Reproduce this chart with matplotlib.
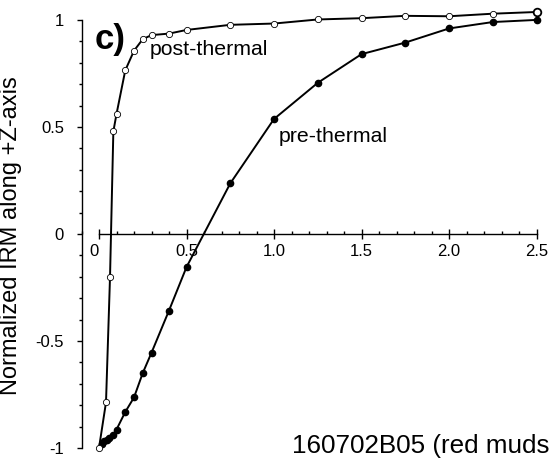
import matplotlib.pyplot as plt
from matplotlib.ticker import MultipleLocator, FixedLocator
import matplotlib.transforms as mtransforms
import numpy as np

# values
post_x = [0.0, 0.04, 0.063, 0.082, 0.10, 0.15, 0.20, 0.25, 0.30, 0.40, 0.50, 0.75,
          1.0, 1.25, 1.5, 1.75, 2.0, 2.25, 2.5]
post_y = [-1.0, -0.787, -0.20, 0.479, 0.56, 0.764, 0.856, 0.91, 0.929, 0.936, 0.953, 0.977,
          0.983, 1.002, 1.008, 1.019, 1.017, 1.029, 1.037]

pre_x = [0.0, 0.015, 0.03, 0.044, 0.059, 0.082, 0.10, 0.15, 0.20, 0.25, 0.30, 0.40, 0.50, 0.75,
         1.0, 1.25, 1.5, 1.75, 2.0, 2.25, 2.5]
pre_y = [-1.0, -0.981, -0.969, -0.961, -0.953, -0.94, -0.914, -0.832, -0.764, -0.65, -0.555,
         -0.358, -0.155, 0.236, 0.537, 0.706, 0.84, 0.894, 0.96, 0.99, 1.0]

xtick_vals = [0.0, 0.5, 1.0, 1.5, 2.0, 2.5]
xtick_labels = ['0', '0.5', '1.0', '1.5', '2.0', '2.5']
ytick_vals = [-1, -0.5, 0, 0.5, 1]
ytick_labels = ['-1', '-0.5', '0', '0.5', '1']

plt.rcParams['font.family'] = ['Liberation Sans', 'DejaVu Sans']


def main():
    fig = plt.figure(figsize=(5.5, 4.61), dpi=100)
    ax = fig.add_axes([81.5 / 550, 0.0, 468.5 / 550, 1.0])

    ax.plot(pre_x[1:], pre_y[1:], color='black', lw=1.4, marker='o', ms=4.5,
            mfc='black', mec='black', zorder=3)
    ax.plot([post_x[0], pre_x[1]], [post_y[0], pre_y[1]], color='black', lw=1.4, zorder=3)
    ax.plot(post_x[:-1], post_y[:-1], color='black', lw=1.4, marker='o', ms=4.5,
            mfc='white', mec='black', mew=0.6, zorder=4)
    ax.plot(post_x[-2:], post_y[-2:], color='black', lw=1.4, zorder=3)
    ax.plot(post_x[-1:], post_y[-1:], ls='none', marker='o', ms=5.5,
            mfc='white', mec='black', mew=1.3, zorder=5)

    ax.set_xlim(-0.1, 2.577)
    ax.set_ylim(-1.061, 1.093)

    for s in ['top', 'right']:
        ax.spines[s].set_visible(False)
    ax.spines['left'].set_bounds(-1, 1)
    ax.spines['left'].set_linewidth(1.0)
    ax.spines['bottom'].set_position(('data', 0))
    ax.spines['bottom'].set_bounds(0, 2.5)
    ax.spines['bottom'].set_linewidth(1.0)

    ax.xaxis.set_major_locator(FixedLocator(xtick_vals))
    ax.set_xticklabels(xtick_labels)
    ax.xaxis.set_minor_locator(MultipleLocator(0.1))
    ax.yaxis.set_major_locator(FixedLocator(ytick_vals))
    ax.set_yticklabels(ytick_labels)
    ax.yaxis.set_minor_locator(MultipleLocator(0.1))

    ax.tick_params(axis='x', which='major', direction='inout', length=7.2, width=1.0,
                   labelsize=12, pad=4)
    ax.tick_params(axis='x', which='minor', direction='in', length=2.5, width=1.0)
    ax.tick_params(axis='y', which='major', direction='out', length=3.6, width=1.0,
                   labelsize=12, pad=9)
    ax.tick_params(axis='y', which='minor', direction='out', length=2.3, width=1.0)

    # the "0" label sits a bit left of its tick
    lab0 = ax.get_xticklabels()[0]
    lab0.set_transform(lab0.get_transform() +
                       mtransforms.ScaledTranslation(-5 / 100, 0, fig.dpi_scale_trans))

    ax.set_ylabel('Normalized IRM along +Z-axis', fontsize=17)
    ax.yaxis.set_label_coords(-0.127, 0.489)

    ax.text(-0.025, 0.91, 'c)', fontsize=25, fontweight='bold', va='center', ha='left')
    ax.text(0.29, 0.836, 'post-thermal', fontsize=15.3, va='baseline', ha='left')
    ax.text(1.027, 0.43, 'pre-thermal', fontsize=15.3, va='baseline', ha='left')
    ax.text(1.102, -1.023, '160702B05 (red muds', fontsize=18.7, va='baseline', ha='left',
            clip_on=False)

    plt.savefig('out.png', dpi=100)


if __name__ == '__main__':
    main()
